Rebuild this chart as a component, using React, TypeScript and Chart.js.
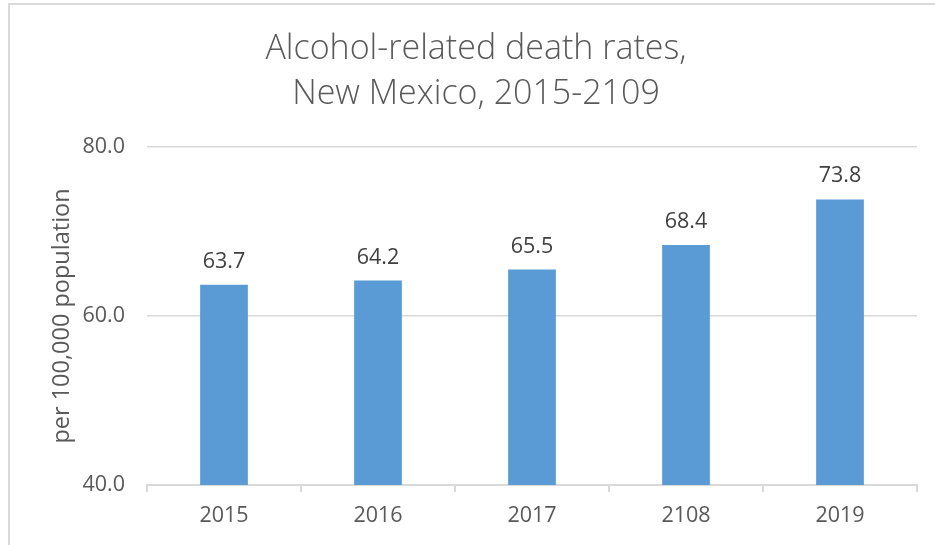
import React, { useEffect, useRef } from "react";
import { Chart, registerables } from "chart.js";

Chart.register(...registerables);

const titleLines = ["Alcohol-related death rates,", "New Mexico, 2015-2109"];
const yAxisTitle = "per 100,000 population";
const categories = ["2015", "2016", "2017", "2108", "2019"];
const deathRates = [63.7, 64.2, 65.5, 68.4, 73.8];
const yMin = 40;
const yMax = 80;
const yStep = 20;

const FONT = "'Open Sans', Lato, sans-serif";
const TEXT = "#595959";
const GRID = "#d9d9d9";
const BAR = "#5B9BD5";

const titlePlugin = {
  id: "twoLineTitle",
  afterDraw(chart: any) {
    const ctx = chart.ctx;
    ctx.save();
    ctx.font = `300 34px ${FONT}`;
    ctx.fillStyle = TEXT;
    ctx.textAlign = "center";
    ctx.textBaseline = "alphabetic";
    titleLines.forEach((line, i) => {
      ctx.fillText(line, 476, 59 + i * 45);
    });
    ctx.restore();
  },
};

const dataLabelPlugin = {
  id: "barValueLabels",
  afterDatasetsDraw(chart: any) {
    const ctx = chart.ctx;
    ctx.save();
    ctx.font = `21.5px ${FONT}`;
    ctx.fillStyle = "#404040";
    ctx.textAlign = "center";
    ctx.textBaseline = "alphabetic";
    const meta = chart.getDatasetMeta(0);
    meta.data.forEach((el: any, i: number) => {
      const v = chart.data.datasets[0].data[i] as number;
      ctx.fillText(v.toFixed(1), el.x, el.y - 17);
    });
    ctx.restore();
  },
};

export default function App() {
  const canvasRef = useRef<HTMLCanvasElement | null>(null);

  useEffect(() => {
    document.body.style.margin = "0";
    const canvas = canvasRef.current;
    if (!canvas) return;
    const chart = new Chart(canvas, {
      type: "bar",
      data: {
        labels: categories,
        datasets: [
          {
            data: deathRates,
            backgroundColor: BAR,
            borderWidth: 0,
            categoryPercentage: 1,
            barPercentage: 0.31,
          },
        ],
      },
      options: {
        responsive: false,
        animation: false,
        devicePixelRatio: 1,
        layout: { padding: { top: 147, right: 18, left: 0, bottom: 0 } },
        plugins: {
          legend: { display: false },
          title: { display: false },
          tooltip: { enabled: false },
        },
        scales: {
          y: {
            min: yMin,
            max: yMax,
            ticks: {
              stepSize: yStep,
              callback: (v: any) => Number(v).toFixed(1),
              font: { family: FONT, size: 21.5 },
              color: TEXT,
              padding: 22,
            },
            grid: { color: GRID, lineWidth: 1.5, drawTicks: false },
            border: { display: false },
            title: {
              display: true,
              text: yAxisTitle,
              font: { family: FONT, size: 23.5 },
              color: TEXT,
              padding: { top: 48, bottom: 0 },
            },
            afterFit: (s: any) => {
              s.width = 147;
            },
          },
          x: {
            ticks: {
              font: { family: FONT, size: 21.5 },
              color: TEXT,
              padding: 11,
            },
            grid: {
              offset: true,
              drawOnChartArea: false,
              drawTicks: true,
              tickLength: 7,
              color: GRID,
              lineWidth: 2,
            },
            border: { display: true, color: GRID, width: 2 },
            afterFit: (s: any) => {
              s.height = 60;
            },
          },
        },
      },
      plugins: [titlePlugin, dataLabelPlugin],
    });
    return () => chart.destroy();
  }, []);

  return (
    <div style={{ position: "relative", width: 935, height: 545, overflow: "hidden", background: "#fff" }}>
      <div
        style={{
          position: "absolute",
          left: 8,
          top: 3,
          width: 960,
          height: 580,
          borderLeft: `2px solid ${GRID}`,
          borderTop: `2px solid ${GRID}`,
          boxSizing: "border-box",
        }}
      />
      <canvas ref={canvasRef} width={935} height={545} style={{ position: "absolute", left: 0, top: 0 }} />
    </div>
  );
}
